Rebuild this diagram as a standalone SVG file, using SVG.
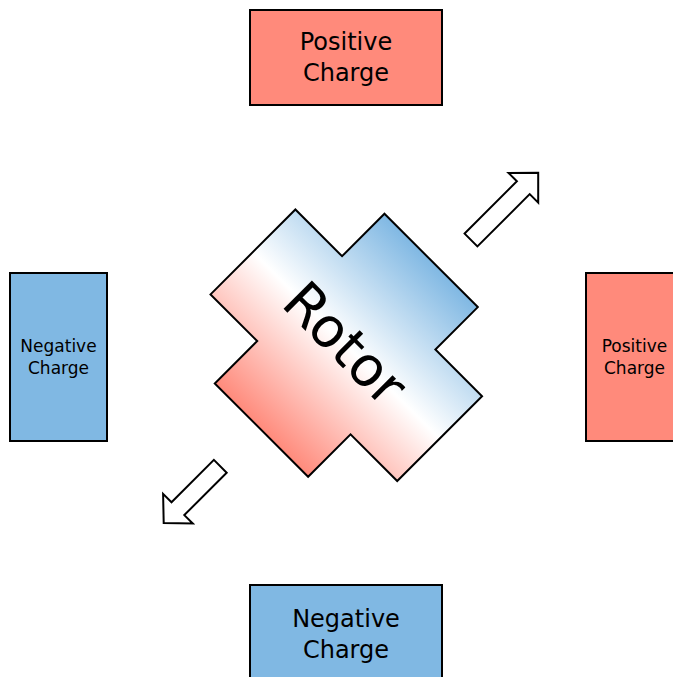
<svg xmlns="http://www.w3.org/2000/svg" width="673" height="677" viewBox="0 0 673 677">
<style>
.box{stroke:#000;stroke-width:2}
.pos{fill:#ff8a7b}
.neg{fill:#80b8e3}
.big{font-family:"DejaVu Sans",sans-serif;font-size:24px;fill:#000;text-anchor:middle}
.small{font-family:"DejaVu Sans",sans-serif;font-size:17px;fill:#000;text-anchor:middle}
.arrow{fill:#fff;stroke:#000;stroke-width:2;stroke-linejoin:miter}
</style>
<defs>
<linearGradient id="rg" gradientUnits="userSpaceOnUse" x1="0" y1="120" x2="0" y2="-120">
<stop offset="0" stop-color="#ff8a7b"/>
<stop offset="0.5" stop-color="#ffffff"/>
<stop offset="1" stop-color="#80b8e3"/>
</linearGradient>
</defs>
<rect width="673" height="677" fill="#fff"/>
<g id="top-positive">
<rect class="box pos" x="250" y="10" width="192" height="95"/>
<text class="big" x="346" y="50">Positive</text>
<text class="big" x="346" y="81">Charge</text>
</g>
<g id="bottom-negative">
<rect class="box neg" x="250" y="585" width="192" height="100"/>
<text class="big" x="346" y="626.5">Negative</text>
<text class="big" x="346" y="657.5">Charge</text>
</g>
<g id="left-negative">
<rect class="box neg" x="10" y="273" width="97" height="168"/>
<text class="small" x="58.5" y="351.5">Negative</text>
<text class="small" x="58.5" y="373.5">Charge</text>
</g>
<g id="right-positive">
<rect class="box pos" x="586" y="273" width="97" height="168"/>
<text class="small" x="634.5" y="351.5">Positive</text>
<text class="small" x="634.5" y="373.5">Charge</text>
</g>
<g id="rotor" transform="translate(346.3,345.3) rotate(45)">
<polygon points="-66,-120 66,-120 66,-60 132,-60 132,60 66,60 66,120 -66,120 -66,60 -132,60 -132,-60 -66,-60" fill="url(#rg)" stroke="#000" stroke-width="2"/>
<text x="-2" y="18.5" font-family="DejaVu Sans, sans-serif" font-size="55" text-anchor="middle" fill="#000">Rotor</text>
</g>
<g id="connectors">
<polygon class="arrow" points="464.6,233.6 477.4,246.4 529.7,194.1 538.2,202.6 538.2,172.8 508.5,172.9 516.9,181.3"/>
<polygon class="arrow" points="213.9,459.9 226.7,472.7 184.3,515.1 192.8,523.5 163.7,522.9 163.1,493.9 171.5,502.3"/>
</g>
</svg>
